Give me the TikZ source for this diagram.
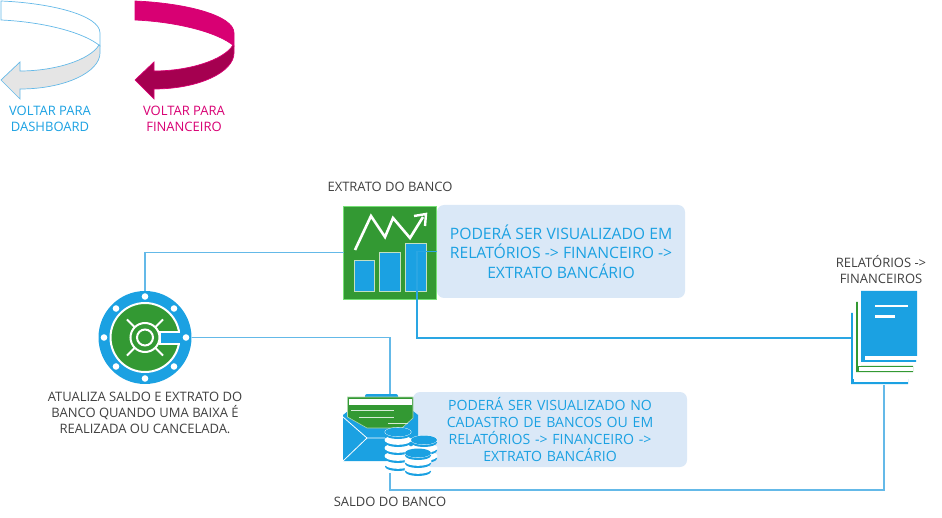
\documentclass[tikz,border=0pt]{standalone}
\usepackage{fontspec}
\setmainfont{Open Sans}
\usetikzlibrary{positioning,arrows.meta,shapes.geometric}
\definecolor{azul}{RGB}{27,161,226}
\definecolor{linha}{RGB}{100,185,232}
\definecolor{verde}{RGB}{51,153,51}
\definecolor{caixa}{RGB}{218,232,247}
\definecolor{rosa}{RGB}{216,0,115}
\definecolor{vinho}{RGB}{165,0,80}
\definecolor{cinza}{RGB}{229,229,229}
\definecolor{texto}{RGB}{64,64,64}
\tikzset{
  pics/voltar/.style n args={3}{code={
    \path[draw=#3,fill=#1,line width=0.7pt](1,1).. controls (50,3) and (100,15) .. (100,33)--(100,46).. controls (85,33) and (45,22) .. (1,20)--cycle;
    \path[draw=#3,fill=#2,line width=0.7pt](99,45).. controls (90,60) and (55,71) .. (20,71)--(20,62)--(1,80)--(20,99)--(20,89).. controls (65,89) and (100,72) .. (100,53)--(100,46)--cycle;
  }},
  pics/moedas/.style={code={
    \foreach \k in {#1,...,0}{
      \fill[azul](0,\k*8+2.5) ellipse (13 and 4.5);
      \fill[white](0,\k*8) ellipse (13.5 and 4.8);
    }
    \fill[azul](0,0) ellipse (13 and 4.5);
  }}
}
\begin{document}
\begin{tikzpicture}[x=1pt,y=-1pt,
  lig/.style={linha,line width=1.1pt},
  bl/.style={inner sep=0pt,outer sep=0pt},
  cx/.style={bl,rectangle,rounded corners=7pt,fill=caixa,text=azul,align=center},
  rot/.style={inner sep=0pt,align=center,font=\fontsize{13}{16}\selectfont},
  lbl/.style={rot,text=texto}]
  \useasboundingbox (0,0) rectangle (942,518);
  % voltar
  \pic at (0,0) {voltar={white}{cinza}{linha}};
  \pic at (134,0) {voltar={rosa}{vinho}{rosa}};
  \node[rot,text=azul](vd) at (50,119){VOLTAR PARA\\DASHBOARD};
  \node[rot,text=rosa](vf) at (184,119){VOLTAR PARA\\FINANCEIRO};
  % caixas
  \node[cx,minimum width=248pt,minimum height=93pt,font=\fontsize{15.7}{19.6}\selectfont](cxa) at (561,251.5){PODERÁ SER VISUALIZADO EM\\RELATÓRIOS -> FINANCEIRO ->\\EXTRATO BANCÁRIO};
  \node[cx,minimum width=274pt,minimum height=75pt,text width=262pt,font=\fontsize{14.1}{17}\selectfont](cxb) at (550,429.5){PODERÁ SER VISUALIZADO NO\\CADASTRO DE BANCOS OU EM\\RELATÓRIOS -> FINANCEIRO ->\\EXTRATO BANCÁRIO};
  % nos
  \node[bl,circle,fill=azul,minimum size=93pt](cofre) at (145,337.5){};
  \node[bl,rectangle,fill=verde,draw=green!50!verde!60!white,line width=0.6pt,minimum width=93pt,minimum height=93pt](extrato) at (390,252.5){};
  \node[bl,minimum width=94pt,minimum height=78pt](saldo) at (390,434){};
  \node[bl,minimum width=66pt,minimum height=94pt](relat) at (884,338){};
  % ligacoes
  \draw[lig](cofre.north)|-(extrato.west);
  \draw[lig](cofre.east)-|(saldo.north);
  \draw[lig](saldo.south)--++(0,17)-|(relat.south);
  % icone cofre
  \foreach \a in {0,45,...,315}{\fill[white](cofre.center)++(\a:41) circle (3.3);}
  \fill[verde,draw=white,line width=2pt](cofre.center) circle (34.5);
  \draw[white,line width=2pt](cofre.center) circle (14.5) circle (8);
  \foreach \a in {45,135,225,315}{\draw[white,line width=2pt](cofre.center)++(\a:14.5)--++(\a:11);}
  \fill[azul](160,332.5) rectangle (182,344.5);
  \draw[white,line width=2pt](180,332.5)--(160,332.5)--(160,344.5)--(180,344.5);
  % icone extrato
  \foreach \xa/\ya/\xb in {354/260/374,379.5/252/400,405.5/243/426}
    \fill[azul,draw=white!70!verde,line width=0.8pt](\xa,\ya) rectangle (\xb,291);
  \draw[white,line width=2.6pt,line join=miter](355,250)--(371,216)--(385,237)--(393,218)--(410,238)--(423,217);
  \draw[white,line width=2.4pt](414,216)--(426,214)--(425,226);
  \draw[lig,azul!80!linha](cxa.west)--++(-20,0)|-(relat.west);
  % icone saldo
  \fill[azul,rounded corners=2pt](365,399) rectangle (398,394);
  \fill[azul](343,415)--(348,411)--(413,411)--(418,415)--(418,461)--(343,461)--cycle;
  \fill[verde,draw=white!60!verde,line width=0.6pt](347.5,397)--(413,397)--(413,418)--(402,428)--(367,428)--(347.5,417)--cycle;
  \fill[white](349,399) rectangle (412,405);
  \draw[white!80!verde,line width=1pt](351,410)--(394,410) (359,417)--(394,417) (388,423)--(408,423);
  \draw[white,line width=0.8pt](343,417)--(367,438)--(385,438) (343,461)--(367,438);
  \pic at (398,432) {moedas=4};
  \pic at (424,440) {moedas=2};
  \pic at (418,453) {moedas=2};
  % icone relatorios
  \fill[azul](851,313) rectangle (853,384) (851,379) rectangle (908,384);
  \fill[white](854,379) rectangle (908,382);
  \fill[white](853,313) rectangle (856,379);
  \fill[verde](856,302) rectangle (858,372) (856,366) rectangle (913,372);
  \fill[white](859,367.5) rectangle (913,370.5);
  \fill[white](858,302) rectangle (861,366);
  \fill[azul](861,291) rectangle (917,356) (861,356) rectangle (916,362);
  \fill[white](865,356.5) rectangle (917,360);
  \draw[white,line width=2.5pt](875,306)--(908,306) (875,316.5)--(895,316.5);
  % rotulos
  \node[lbl](lbe) at (390,187){EXTRATO DO BANCO};
  \node[lbl](lbs) at (390,502){SALDO DO BANCO};
  \node[lbl](lbr) at (881,269.5){RELATÓRIOS ->\\FINANCEIROS};
  \node[lbl](lbc) at (145,413){ATUALIZA SALDO E EXTRATO DO\\BANCO QUANDO UMA BAIXA É\\REALIZADA OU CANCELADA.};
\end{tikzpicture}
\end{document}
